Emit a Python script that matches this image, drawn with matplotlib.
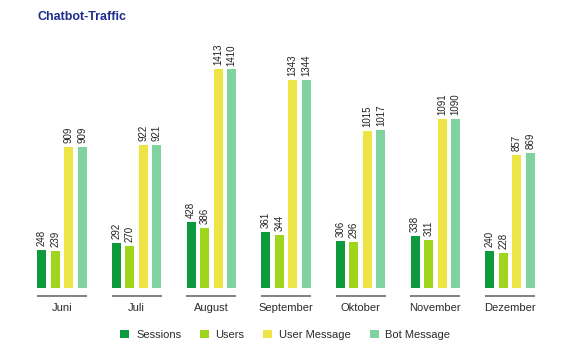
import numpy as np
import matplotlib
matplotlib.use('Agg')
import matplotlib.pyplot as plt
from matplotlib.patches import Patch

plt.rcParams['font.family'] = ['Liberation Sans', 'DejaVu Sans']

months = ['Juni', 'Juli', 'August', 'September', 'Oktober', 'November', 'Dezember']
series_names = ['Sessions', 'Users', 'User Message', 'Bot Message']
sessions = [248, 292, 428, 361, 306, 338, 240]
users = [239, 270, 386, 344, 296, 311, 228]
user_message = [909, 922, 1413, 1343, 1015, 1091, 857]
bot_message = [909, 921, 1410, 1344, 1017, 1090, 869]
colors = ['#0d9a3c', '#9fd61c', '#eee444', '#7fd39e']

fig = plt.figure(figsize=(5.8, 3.56), dpi=100)
# axes placed so the baseline sits where the reference has it
ax = fig.add_axes([37 / 580, 68 / 356, 498 / 580, 232.5 / 356])

x = np.arange(len(months))
width = 0.12
offsets = [-0.27, -0.09, 0.09, 0.27]
all_series = [sessions, users, user_message, bot_message]

for vals, off, col in zip(all_series, offsets, colors):
    bars = ax.bar(x + off, vals, width=width, color=col, linewidth=0)
    for b, v in zip(bars, vals):
        ax.text(b.get_x() + b.get_width() / 2, v + 25, str(v),
                rotation=90, ha='center', va='bottom', fontsize=7, color='#222222')

ax.set_xlim(-0.335, 6.335)
ax.set_ylim(0, 1500)
ax.axis('off')

# gray base line under each month + month name
trans = ax.get_xaxis_transform()
for i, m in enumerate(months):
    ax.plot([i - 0.335, i + 0.335], [-0.034, -0.034], color='#777777', lw=1.3,
            transform=trans, clip_on=False, solid_capstyle='butt')
    ax.text(i, -0.087, m, transform=trans, ha='center', va='center',
            fontsize=8, color='#2a2a2a')

fig.text(37 / 580, 1 - 17 / 356, 'Chatbot-Traffic', fontsize=9, fontweight='bold',
         color='#1e2d8c', ha='left', va='center')

handles = [Patch(facecolor=c, edgecolor='none', label=n) for c, n in zip(colors, series_names)]
fig.legend(handles=handles, loc='center', bbox_to_anchor=(0.492, 1 - 335 / 356), ncol=4,
           frameon=False, fontsize=8, handlelength=0.8, handleheight=0.8,
           handletextpad=0.6, columnspacing=1.7, labelcolor='#2a2a2a')

fig.savefig('out.png', dpi=100)
